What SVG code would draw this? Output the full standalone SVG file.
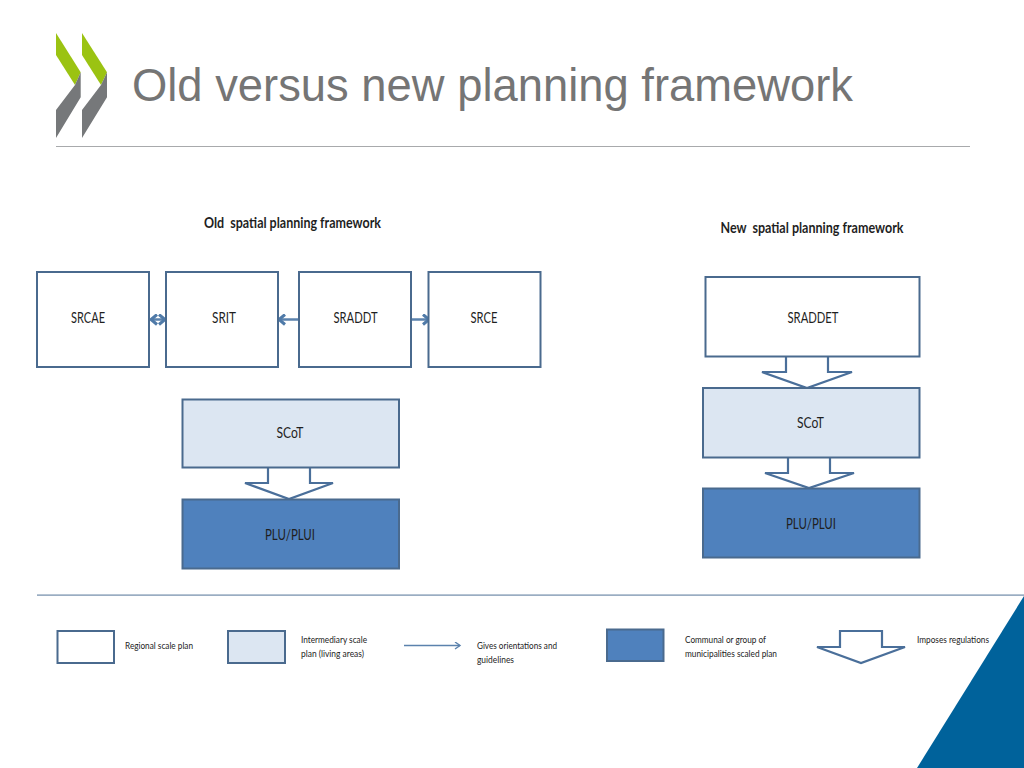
<svg xmlns="http://www.w3.org/2000/svg" width="1024" height="768" viewBox="0 0 1024 768">
<style>
.lbl{font-family:"Lato","Carlito","Liberation Sans",sans-serif;fill:#1f1f1f}
.c{text-anchor:middle;font-size:14.5px}
.h{text-anchor:middle;font-size:15px;font-weight:700;white-space:pre}
.lg{font-size:10px;fill:#222}
.box{stroke:#4a6a8e;stroke-width:2}
.w{fill:#fff}.l{fill:#dce6f2}.d{fill:#4f81bd}
.arr{fill:#fff;stroke:#4a6f9a;stroke-width:2.200;stroke-linejoin:miter}
.ln{fill:none;stroke:#5b82ad}
</style>
<defs>
<marker id="op" markerWidth="8" markerHeight="8" refX="6" refY="4" orient="auto-start-reverse" markerUnits="userSpaceOnUse"><path d="M1 .5 6 4 1 7.500" fill="none" stroke="#5b82ad" stroke-width="1.400"/></marker>
<marker id="big" markerWidth="12" markerHeight="12" refX="9" refY="6" orient="auto-start-reverse" markerUnits="userSpaceOnUse"><path d="M3 1 9 6 3 11" fill="none" stroke="#4f7aa8" stroke-width="3"/></marker>
</defs>
<rect width="1024" height="768" fill="#fff"/>
<g id="logo">
<path d="M56 33 80.700 72.300 75 85 56 55Z" fill="#9bc312"/>
<path d="M75 85 80.700 72.300V97.300L56 138V110Z" fill="#76787a"/>
<path d="M82 33 107 72.300 101 85 82 55Z" fill="#9bc312"/>
<path d="M101 85 107 72.300V97.300L82 138V110Z" fill="#76787a"/>
</g>
<text id="title" x="132" y="101" font-family="Liberation Sans, sans-serif" font-size="47" fill="#757575" textLength="721" lengthAdjust="spacingAndGlyphs">Old versus new planning framework</text>
<rect x="56" y="146" width="914" height="1" fill="#a8aaac"/>
<path id="corner" d="M1024 596V768H917Z" fill="#00629b"/>
<rect x="37" y="594.500" width="987" height="1.200" fill="#6f8aa8"/>
<text class="lbl h" x="292.500" y="228" textLength="177" lengthAdjust="spacingAndGlyphs">Old  spatial planning framework</text>
<text class="lbl h" x="812" y="233" textLength="183" lengthAdjust="spacingAndGlyphs">New  spatial planning framework</text>
<g id="connectors">
<path class="ln" stroke-width="2.500" d="M151 319.500H165" marker-start="url(#big)" marker-end="url(#big)"/>
<path class="ln" stroke-width="2.500" d="M298 319.500H279" marker-end="url(#big)"/>
<path class="ln" stroke-width="2.500" d="M412 319.500H429" marker-end="url(#big)"/>
<path class="arr" d="M268 468V483H245L289 499 333 483H310V468"/>
<path class="arr" d="M786 357V372H762L807 388 852 372H828V357"/>
<path class="arr" d="M788 458V473H765L809 488 854 473H830V458"/>
</g>
<g id="n-srcae"><rect class="box w" x="37" y="272" width="112" height="95"/><text class="lbl c" x="88" y="323" textLength="34" lengthAdjust="spacingAndGlyphs">SRCAE</text></g>
<g id="n-srit"><rect class="box w" x="166" y="272" width="112" height="95"/><text class="lbl c" x="224" y="323" textLength="24" lengthAdjust="spacingAndGlyphs">SRIT</text></g>
<g id="n-sraddt"><rect class="box w" x="299" y="272" width="112" height="95"/><text class="lbl c" x="355.500" y="323" textLength="44" lengthAdjust="spacingAndGlyphs">SRADDT</text></g>
<g id="n-srce"><rect class="box w" x="428.500" y="272" width="112" height="95"/><text class="lbl c" x="484" y="323" textLength="27" lengthAdjust="spacingAndGlyphs">SRCE</text></g>
<g id="n-scot-old"><rect class="box l" x="182.500" y="399.500" width="216.500" height="68"/><text class="lbl c" x="290" y="438" textLength="27" lengthAdjust="spacingAndGlyphs">SCoT</text></g>
<g id="n-plu-old"><rect class="box d" x="182.500" y="499.500" width="216.500" height="69"/><text class="lbl c" x="290" y="540" textLength="50" lengthAdjust="spacingAndGlyphs">PLU/PLUI</text></g>
<g id="n-sraddet"><rect class="box w" x="705.500" y="277" width="214" height="79.500"/><text class="lbl c" x="813" y="323" textLength="51" lengthAdjust="spacingAndGlyphs">SRADDET</text></g>
<g id="n-scot-new"><rect class="box l" x="703" y="388" width="216.500" height="69.500"/><text class="lbl c" x="810.500" y="428" textLength="27" lengthAdjust="spacingAndGlyphs">SCoT</text></g>
<g id="n-plu-new"><rect class="box d" x="703" y="488.500" width="216.500" height="69"/><text class="lbl c" x="811" y="529" textLength="50" lengthAdjust="spacingAndGlyphs">PLU/PLUI</text></g>
<g id="legend">
<rect class="box w" x="57.500" y="631" width="56.500" height="32"/>
<text class="lbl lg" x="125" y="649" textLength="68" lengthAdjust="spacingAndGlyphs">Regional scale plan</text>
<rect class="box l" x="228" y="631" width="57" height="32"/>
<text class="lbl lg" x="301" y="643" textLength="66" lengthAdjust="spacingAndGlyphs">Intermediary scale</text>
<text class="lbl lg" x="301" y="657" textLength="63" lengthAdjust="spacingAndGlyphs">plan (living areas)</text>
<path class="ln" stroke-width="1.400" d="M404 645.500H460" marker-end="url(#op)"/>
<text class="lbl lg" x="477" y="649" textLength="80" lengthAdjust="spacingAndGlyphs">Gives orientations and</text>
<text class="lbl lg" x="477" y="663" textLength="37" lengthAdjust="spacingAndGlyphs">guidelines</text>
<rect class="box d" x="607" y="629.500" width="56.500" height="31.500"/>
<text class="lbl lg" x="685" y="643" textLength="81" lengthAdjust="spacingAndGlyphs">Communal or group of</text>
<text class="lbl lg" x="685" y="657" textLength="92" lengthAdjust="spacingAndGlyphs">municipalities scaled plan</text>
<path class="arr" d="M840 647V631H882V647H905L861 663 817 647Z"/>
<text class="lbl lg" x="917" y="643" textLength="72" lengthAdjust="spacingAndGlyphs">Imposes regulations</text>
</g>
</svg>
